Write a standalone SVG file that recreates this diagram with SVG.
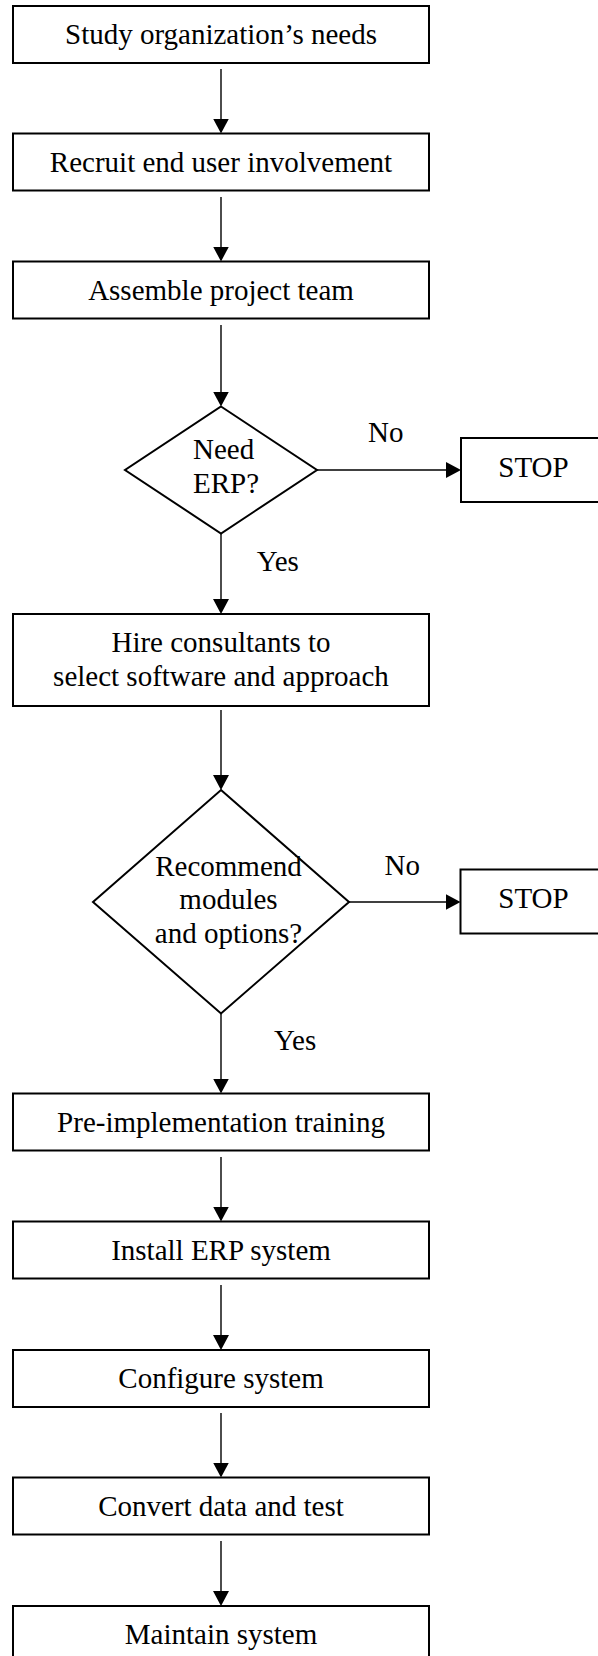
<svg xmlns="http://www.w3.org/2000/svg" width="598" height="1656" viewBox="0 0 598 1656">
<style>
.box{fill:#fff;stroke:#000;stroke-width:2}
.t{font-family:"Liberation Serif","Times New Roman",serif;font-size:29px;fill:#000}
.c{text-anchor:middle}
.con line{stroke:#000;stroke-width:1.4;marker-end:url(#ah)}
</style>
<defs>
<marker id="ah" markerUnits="userSpaceOnUse" markerWidth="15" markerHeight="16" refX="7" refY="8" orient="auto">
<path d="M0,0 L15,8 L0,16 z" fill="#000"/>
</marker>
</defs>
<rect width="598" height="1656" fill="#fff"/>
<g id="n1"><rect class="box" x="13" y="6" width="416" height="57"/><text class="t c" x="221" y="44">Study organization’s needs</text></g>
<g id="n2"><rect class="box" x="13" y="133.5" width="416" height="57"/><text class="t c" x="221" y="171.6">Recruit end user involvement</text></g>
<g id="n3"><rect class="box" x="13" y="261.5" width="416" height="57"/><text class="t c" x="221" y="299.5">Assemble project team</text></g>
<g id="d1"><polygon class="box" points="221,406.5 317,470 221,533.5 125,470"/><text class="t" x="193" y="459.3">Need</text><text class="t" x="193" y="493.3">ERP?</text></g>
<g id="s1"><rect class="box" x="461" y="438" width="140" height="64"/><text class="t" x="498.3" y="477">STOP</text></g>
<g id="n4"><rect class="box" x="13" y="614" width="416" height="92"/><text class="t c" x="221" y="651.7">Hire consultants to</text><text class="t c" x="221" y="686">select software and approach</text></g>
<g id="d2"><polygon class="box" points="221,790 349,902 221,1013.5 93,902"/><text class="t c" x="228.5" y="876">Recommend</text><text class="t c" x="228.5" y="909.3">modules</text><text class="t c" x="228.5" y="942.7">and options?</text></g>
<g id="s2"><rect class="box" x="460.5" y="869.5" width="140" height="64"/><text class="t" x="498.3" y="908">STOP</text></g>
<g id="n5"><rect class="box" x="13" y="1093.5" width="416" height="57"/><text class="t c" x="221" y="1131.6">Pre-implementation training</text></g>
<g id="n6"><rect class="box" x="13" y="1221.5" width="416" height="57"/><text class="t c" x="221" y="1259.8">Install ERP system</text></g>
<g id="n7"><rect class="box" x="13" y="1350" width="416" height="57"/><text class="t c" x="221" y="1388">Configure system</text></g>
<g id="n8"><rect class="box" x="13" y="1477.5" width="416" height="57"/><text class="t c" x="221" y="1515.5">Convert data and test</text></g>
<g id="n9"><rect class="box" x="13" y="1606" width="416" height="57"/><text class="t c" x="221" y="1644">Maintain system</text></g>
<g id="connectors" class="con">
<line x1="221" y1="69" x2="221" y2="125.5"/>
<line x1="221" y1="197" x2="221" y2="253.5"/>
<line x1="221" y1="325" x2="221" y2="398.5"/>
<line x1="317" y1="470" x2="453" y2="470"/>
<line x1="221" y1="533.5" x2="221" y2="606"/>
<line x1="221" y1="710" x2="221" y2="782"/>
<line x1="349" y1="902" x2="452.5" y2="902"/>
<line x1="221" y1="1013.5" x2="221" y2="1085.5"/>
<line x1="221" y1="1157" x2="221" y2="1213.5"/>
<line x1="221" y1="1285" x2="221" y2="1342"/>
<line x1="221" y1="1413" x2="221" y2="1469.5"/>
<line x1="221" y1="1541" x2="221" y2="1598"/>
<text class="t" x="368" y="441.7">No</text>
<text class="t" x="256.7" y="570.7">Yes</text>
<text class="t" x="384.5" y="874.5">No</text>
<text class="t" x="274" y="1050">Yes</text>
</g>
</svg>
